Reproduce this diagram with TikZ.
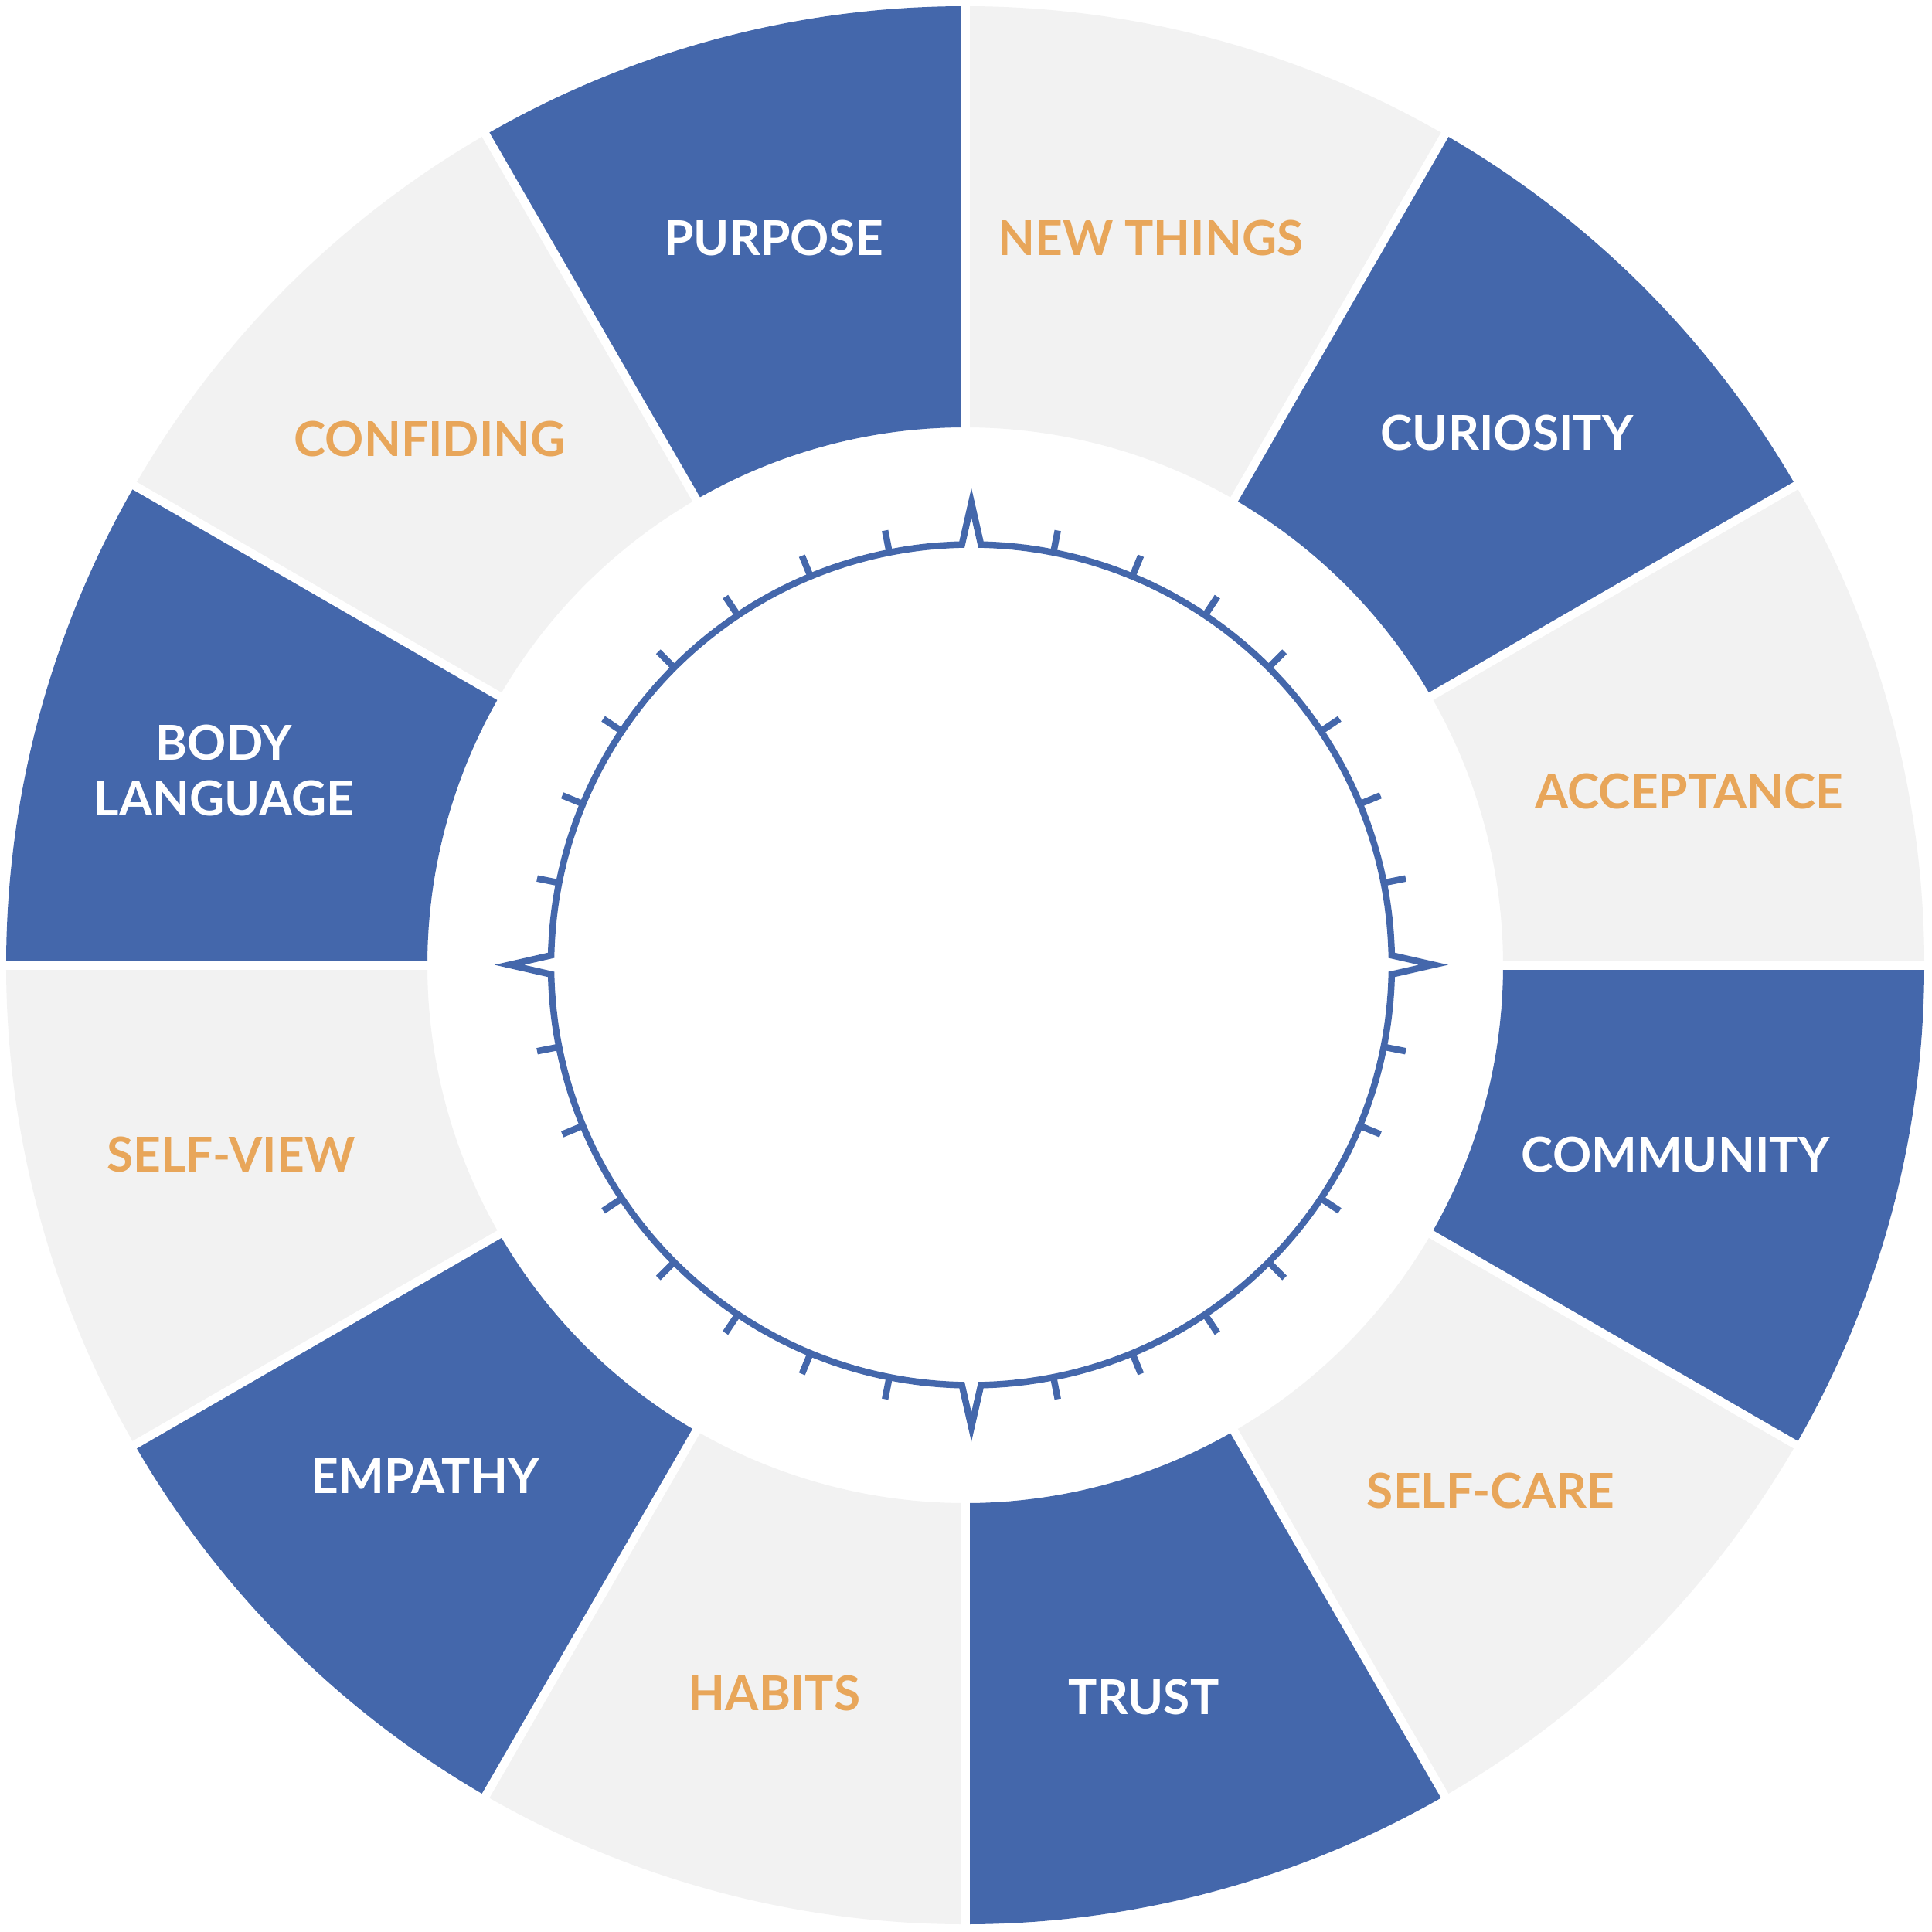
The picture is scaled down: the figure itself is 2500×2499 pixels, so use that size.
\documentclass[tikz,border=0pt]{standalone}
\usepackage{fontspec}
\setmainfont{Lato}
\definecolor{ringblue}{HTML}{4467AB}
\definecolor{ringgray}{HTML}{F2F2F2}
\definecolor{labelorange}{HTML}{E8A65A}
\begin{document}
\begin{tikzpicture}[x=0.01cm,y=0.01cm,
  seglabel/.style={inner sep=0pt, align=center, font=\fontsize{17.7pt}{20.5pt}\selectfont\bfseries},
  onblue/.style={seglabel, text=white},
  ongray/.style={seglabel, text=labelorange},
  gapline/.style={white, line width=3.13pt},
  compassline/.style={ringblue, line width=2.4pt, line join=miter, miter limit=20},
  tickline/.style={ringblue, line width=2.4pt, line cap=butt}]
\useasboundingbox (-1249,1249) rectangle (1251,-1250);
\fill[white] (-1249,1249) rectangle (1251,-1250);
% ring segments
\foreach \i in {0,...,11}{
  \pgfmathsetmacro{\a}{30*\i}
  \pgfmathsetmacro{\b}{30*\i+30}
  \pgfmathtruncatemacro{\odd}{mod(\i,2)}
  \ifnum\odd=1 \def\segcol{ringblue}\else\def\segcol{ringgray}\fi
  \fill[\segcol] (\a:696) arc[start angle=\a, end angle=\b, radius=696]
     -- (\b:1241) arc[start angle=\b, end angle=\a, radius=1241] -- cycle;
}
\foreach \i in {0,...,11}{
  \draw[gapline] (30*\i:680) -- (30*\i:1250);
}
% compass
\begin{scope}[shift={(8,0.5)}]
  \def\dd{1.3}
  \draw[compassline] (\dd:544)
    arc[start angle=\dd, end angle=90-\dd, radius=544] -- (90:598) -- (90+\dd:544)
    arc[start angle=90+\dd, end angle=180-\dd, radius=544] -- (180:598) -- (180+\dd:544)
    arc[start angle=180+\dd, end angle=270-\dd, radius=544] -- (270:598) -- (270+\dd:544)
    arc[start angle=270+\dd, end angle=360-\dd, radius=544] -- (0:598) -- cycle;
  \foreach \k in {1,...,7,9,10,...,15,17,18,...,23,25,26,...,31}{
    \draw[tickline] (11.25*\k:544) -- (11.25*\k:573);
  }
\end{scope}
% labels
\node[onblue] (purpose) at (-248,941) {PURPOSE};
\node[ongray] (newthings) at (240,941) {NEW THINGS};
\node[onblue] (curiosity) at (701,689) {CURIOSITY};
\node[ongray] (acceptance) at (937,225) {ACCEPTANCE};
\node[onblue] (community) at (919,-245) {COMMUNITY};
\node[ongray] (selfcare) at (680,-680) {SELF-CARE};
\node[onblue] (trust) at (231,-947) {TRUST};
\node[ongray] (habits) at (-247,-942) {HABITS};
\node[onblue] (empathy) at (-699,-661) {EMPATHY};
\node[ongray] (selfview) at (-950,-245) {SELF-VIEW};
\node[onblue] (bodylanguage) at (-959,252) {BODY\\LANGUAGE};
\node[ongray] (confiding) at (-693,681) {CONFIDING};
\end{tikzpicture}
\end{document}
